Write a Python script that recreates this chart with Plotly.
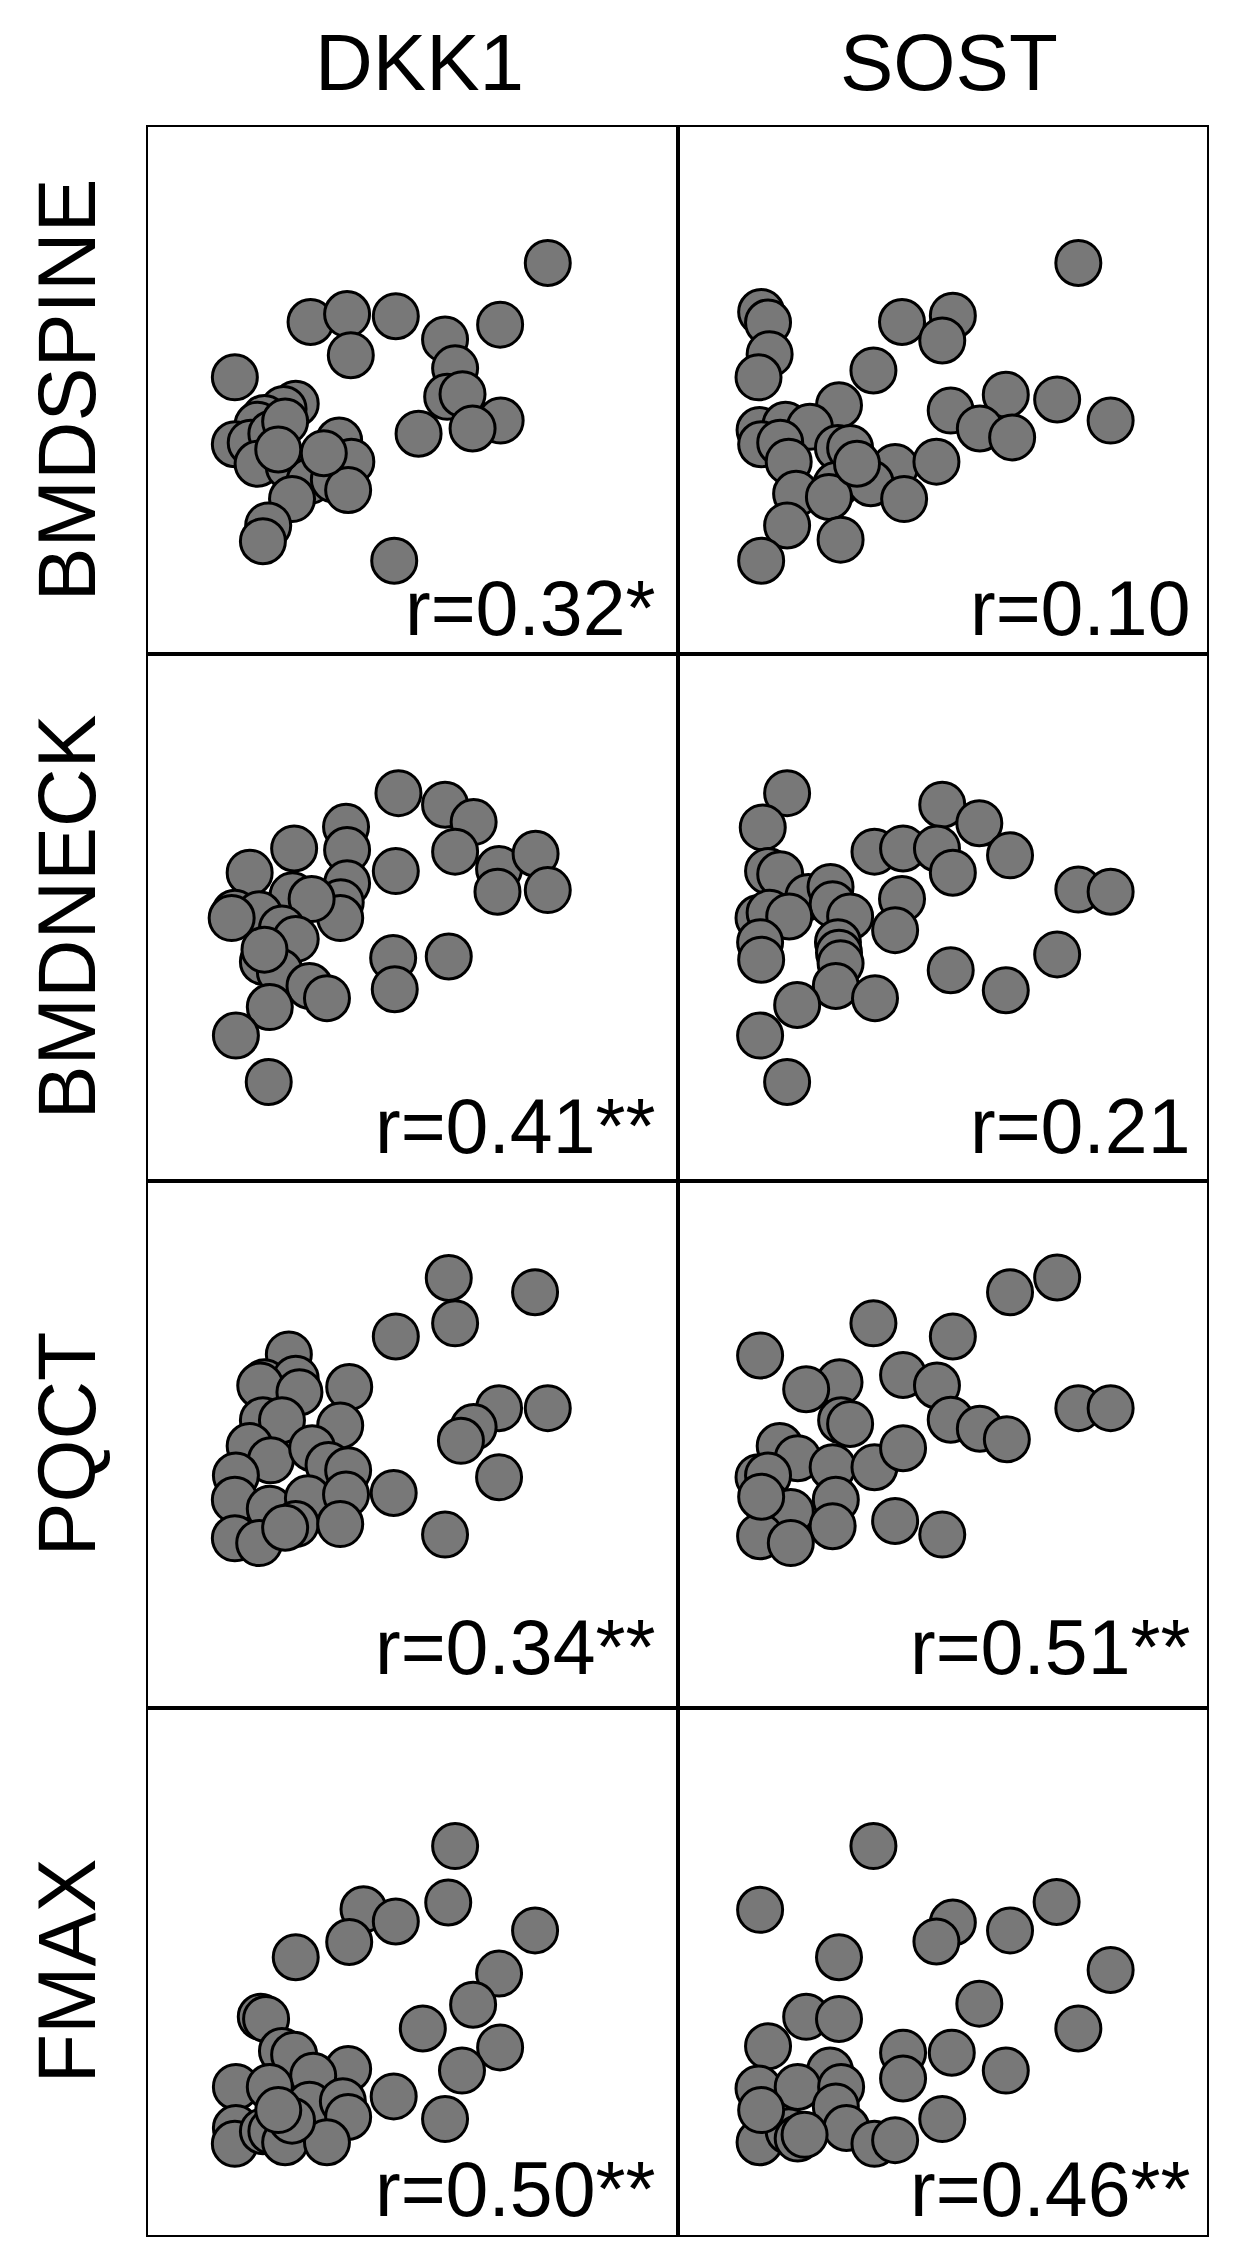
import plotly.graph_objects as go
from plotly.subplots import make_subplots


# -------------------------------------------------
# Data (0-100 scale per panel)
# -------------------------------------------------

columns = ["DKK1", "SOST"]
rows = ["BMDSPINE", "BMDNECK", "PQCT", "FMAX"]

r_labels = [
    ["r=0.32*", "r=0.10"],
    ["r=0.41**", "r=0.21"],
    ["r=0.34**", "r=0.51**"],
    ["r=0.50**", "r=0.46**"],
]

dkk1_spine_x = [75.5, 30.7, 37.6, 46.8, 38.3, 56.1, 66.5, 58.0, 16.4, 56.5, 59.4, 66.6,
                61.3, 51.1, 27.9, 25.6, 22.0, 20.7, 16.4, 19.4, 23.3, 25.9, 36.1, 20.7,
                26.6, 30.5, 35.1, 38.4, 37.8, 27.2, 22.7, 21.7, 46.5, 24.6, 33.2]
dkk1_spine_y = [74.2, 63.0, 64.5, 64.1, 56.7, 59.7, 62.5, 54.2, 52.5, 48.8, 49.3, 44.3,
                42.8, 41.8, 47.5, 46.5, 44.8, 43.5, 39.8, 40.1, 41.8, 44.1, 40.5, 36.1,
                35.5, 32.8, 33.1, 36.5, 31.1, 29.4, 24.4, 21.4, 17.7, 38.8, 38.1]

sost_spine_x = [75.7, 15.8, 17.1, 17.4, 15.3, 42.4, 52.0, 50.0, 37.0, 30.5, 51.6, 62.0,
                71.7, 81.8, 57.1, 63.2, 15.5, 20.4, 25.0, 15.8, 19.4, 21.0, 30.3, 32.6,
                41.1, 48.9, 30.0, 36.5, 42.8, 22.4, 28.6, 20.7, 30.8, 15.8, 33.9]
sost_spine_y = [74.2, 64.9, 62.9, 56.9, 52.5, 63.0, 64.2, 59.5, 53.8, 47.2, 46.2, 49.2,
                48.3, 44.3, 42.8, 41.1, 42.5, 43.5, 43.1, 39.8, 40.1, 36.5, 39.1, 39.1,
                35.5, 36.5, 32.1, 32.4, 29.4, 30.4, 29.8, 24.4, 21.7, 17.7, 36.1]

dkk1_neck_x = [47.3, 56.1, 61.5, 58.0, 66.3, 73.2, 66.0, 75.5, 37.4, 37.6, 37.6, 36.4,
               36.3, 46.8, 27.6, 19.2, 27.3, 30.9, 16.4, 21.0, 25.3, 27.9, 21.7, 24.9,
               30.5, 33.8, 23.0, 46.3, 46.6, 56.8, 16.6, 22.8, 22.0, 15.8]
dkk1_neck_y = [73.6, 71.4, 68.1, 62.5, 59.2, 62.1, 54.9, 55.2, 67.2, 62.8, 56.5, 52.9,
               49.9, 58.8, 63.1, 58.5, 54.2, 53.5, 50.9, 50.6, 47.9, 45.9, 41.6, 39.7,
               37.0, 34.7, 33.0, 42.3, 36.4, 42.6, 27.6, 18.8, 43.9, 49.9]

sost_neck_x = [20.7, 16.1, 50.0, 57.0, 62.8, 37.2, 42.6, 49.0, 52.0, 75.7, 81.8, 17.1,
               19.4, 24.7, 28.9, 29.3, 32.6, 42.4, 41.1, 15.3, 17.4, 21.1, 15.6, 15.8,
               30.3, 30.5, 30.8, 29.9, 37.3, 22.6, 15.6, 20.7, 51.6, 62.0, 71.7]
sost_neck_y = [73.6, 67.1, 71.4, 67.9, 61.8, 62.5, 63.1, 63.1, 58.5, 55.3, 54.9, 58.8,
               58.2, 53.9, 55.8, 52.5, 50.2, 53.5, 47.6, 49.9, 50.9, 50.2, 45.3, 42.0,
               45.3, 43.3, 41.3, 37.0, 34.7, 33.4, 27.6, 18.8, 40.0, 36.2, 43.0]

dkk1_pqct_x = [56.8, 73.1, 58.0, 46.8, 26.6, 22.0, 27.9, 21.2, 28.6, 38.0, 21.7, 25.3,
               36.3, 19.2, 23.2, 31.0, 34.1, 37.8, 16.6, 16.4, 23.0, 30.2, 37.4, 27.9,
               36.3, 16.4, 21.0, 25.9, 46.4, 66.3, 75.5, 61.5, 59.1, 66.3, 56.1]
dkk1_pqct_y = [81.6, 78.9, 73.0, 70.5, 67.1, 61.8, 62.5, 61.2, 59.9, 60.9, 54.6, 54.6,
               53.6, 49.7, 47.0, 49.3, 46.1, 45.1, 44.1, 39.5, 37.8, 39.8, 40.5, 34.9,
               34.9, 32.2, 31.3, 34.2, 40.8, 56.9, 56.9, 53.3, 50.7, 43.8, 32.9]

sost_pqct_x = [71.7, 62.8, 37.0, 52.0, 15.6, 30.6, 24.3, 42.6, 49.0, 51.6, 57.1, 62.2,
               75.7, 81.8, 30.9, 32.6, 19.3, 22.7, 29.3, 37.2, 42.6, 15.3, 17.1, 17.1,
               21.4, 29.9, 29.3, 15.6, 21.4, 41.1, 50.0, 15.8]
sost_pqct_y = [81.7, 78.9, 73.0, 70.5, 66.9, 61.8, 60.5, 63.2, 61.2, 54.7, 53.0, 51.0,
               56.9, 56.9, 54.6, 53.9, 49.7, 47.4, 45.7, 45.7, 49.3, 43.8, 44.1, 38.5,
               37.2, 39.5, 34.5, 32.6, 31.3, 35.5, 32.9, 40.1]

dkk1_fmax_x = [58.0, 56.7, 73.1, 40.7, 46.8, 38.0, 27.9, 66.3, 61.4, 51.9, 66.5, 59.3,
               46.4, 56.1, 21.3, 22.3, 25.3, 27.6, 37.8, 31.2, 16.6, 23.0, 30.5, 36.8,
               37.8, 16.6, 16.4, 21.7, 23.3, 25.9, 33.8, 27.2, 24.6]
dkk1_fmax_y = [73.8, 63.1, 57.8, 61.8, 59.5, 55.6, 52.7, 49.6, 43.7, 39.2, 35.6, 31.2,
               26.3, 22.0, 41.4, 41.0, 34.9, 34.2, 31.5, 30.2, 28.1, 28.1, 24.7, 25.4,
               22.4, 20.3, 17.3, 19.7, 19.7, 17.6, 17.6, 21.7, 23.7]

sost_fmax_x = [37.0, 15.6, 71.6, 52.0, 48.9, 62.8, 30.5, 81.8, 57.0, 75.7, 24.3, 30.5,
               17.1, 42.6, 51.8, 62.0, 42.6, 28.8, 15.3, 22.7, 30.9, 29.9, 50.0, 31.9,
               37.2, 41.1, 17.3, 15.5, 21.0, 22.7, 24.0, 15.8]
sost_fmax_y = [73.8, 61.7, 63.2, 59.3, 55.7, 57.8, 52.7, 50.3, 43.9, 39.2, 41.4, 41.0,
               35.8, 34.6, 34.6, 31.2, 29.7, 31.2, 27.8, 28.1, 28.1, 24.4, 22.0, 20.3,
               17.3, 18.0, 20.0, 17.6, 19.7, 18.3, 19.0, 23.7]

panels = [
    [(dkk1_spine_x, dkk1_spine_y), (sost_spine_x, sost_spine_y)],
    [(dkk1_neck_x, dkk1_neck_y), (sost_neck_x, sost_neck_y)],
    [(dkk1_pqct_x, dkk1_pqct_y), (sost_pqct_x, sost_pqct_y)],
    [(dkk1_fmax_x, dkk1_fmax_y), (sost_fmax_x, sost_fmax_y)],
]


# -------------------------------------------------
# Figure
# -------------------------------------------------

FONT = "Arial, Liberation Sans, sans-serif"

fig = make_subplots(
    rows=4,
    cols=2,
    horizontal_spacing=0,
    vertical_spacing=0
)

for i, row in enumerate(panels):
    for j, (xs, ys) in enumerate(row):
        fig.add_trace(
            go.Scatter(
                x=xs,
                y=ys,
                mode="markers",
                marker=dict(
                    size=45,
                    color="#787878",
                    line=dict(color="black", width=3)
                ),
                showlegend=False,
                hoverinfo="skip"
            ),
            row=i + 1,
            col=j + 1
        )

fig.update_xaxes(
    range=[0, 100],
    showgrid=False,
    zeroline=False,
    showticklabels=False,
    ticks="",
    showline=True,
    mirror=True,
    linecolor="black",
    linewidth=2
)
fig.update_yaxes(
    range=[0, 100],
    showgrid=False,
    zeroline=False,
    showticklabels=False,
    ticks="",
    showline=True,
    mirror=True,
    linecolor="black",
    linewidth=2
)

# column headers
for j, name in enumerate(columns):
    fig.add_annotation(
        text=name,
        xref="paper",
        yref="paper",
        x=0.25 + 0.5 * j + 0.006,
        y=1.0304,
        xanchor="center",
        yanchor="middle",
        showarrow=False,
        font=dict(family=FONT, size=80, color="black")
    )

# row labels
for i, name in enumerate(rows):
    fig.add_annotation(
        text=name,
        xref="paper",
        yref="paper",
        x=-0.0774,
        y=1 - (i + 0.5) / 4,
        xanchor="center",
        yanchor="middle",
        textangle=-90,
        showarrow=False,
        font=dict(family=FONT, size=81, color="black")
    )

# correlation labels
baseline_px = [18, 27, 33, 18]
for i in range(4):
    for j in range(2):
        n = i * 2 + j + 1
        suffix = "" if n == 1 else str(n)
        fig.add_annotation(
            text=r_labels[i][j],
            xref=f"x{suffix} domain",
            yref=f"y{suffix} domain",
            x=0.962 if j == 0 else 0.972,
            y=(baseline_px[i] - 17) / 527,
            xanchor="right",
            yanchor="bottom",
            showarrow=False,
            font=dict(family=FONT, size=77, color="black")
        )

# the page body adds an 8px offset, so margins are shifted to keep the grid in place
fig.update_layout(
    width=1241,
    height=2259,
    margin=dict(l=140, r=42, t=119, b=32),
    paper_bgcolor="white",
    plot_bgcolor="white"
)

fig.write_html("out.html")
